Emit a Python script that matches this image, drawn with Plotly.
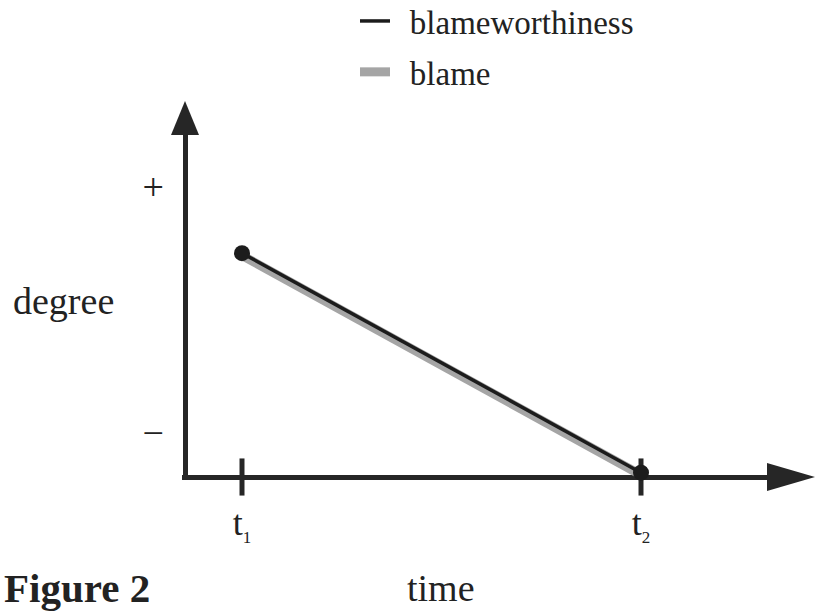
import plotly.graph_objects as go

# ---- data ----
time_points = [1, 8]                 # t1, t2
time_labels = ["t<sub><span style='font-size:17px'>1</span></sub>",
               "t<sub><span style='font-size:17px'>2</span></sub>"]
blameworthiness = [0.78, 0.015]
blame = [0.772, 0.007]
degree_ticks = [1.012, 0.153]
degree_labels = ["+", "\u2212"]
legend_names = ["\u00a0\u2009blameworthiness", "\u00a0\u2009blame"]

# ---- layout constants (pixels) ----
W, H = 817, 611
AXY_PX = 185          # x-pixel of the vertical axis line centre
AXX_PX = 477          # y-pixel of the horizontal axis line centre
LW = 5
PAD = 3
X_END_PX, Y_END_PX = 790, 125
PX_PER_T = 57.0
PX_PER_DEG = 287.0
XD0 = AXY_PX - PAD
YD0 = AXX_PX + PAD
X_MIN = -PAD / PX_PER_T
X_MAX = X_MIN + (X_END_PX - XD0) / PX_PER_T
Y_MIN = -PAD / PX_PER_DEG
Y_MAX = Y_MIN + (YD0 - Y_END_PX) / PX_PER_DEG

AX_COL = "#262626"
TXT = "#222222"
FONT = "Liberation Serif, Times New Roman, serif"

fig = go.Figure()

fig.add_trace(go.Scatter(
    x=time_points, y=blame, mode="lines", name=legend_names[1], legendgroup="b",
    line=dict(color="#a5a5a5", width=9), legendrank=2, cliponaxis=False))
fig.add_trace(go.Scatter(
    x=time_points, y=blameworthiness, mode="lines", name=legend_names[0],
    legendgroup="a", line=dict(color="#1c1c1c", width=3.5), legendrank=1,
    cliponaxis=False))
# tick marks crossing the time axis
fig.add_trace(go.Scatter(
    x=time_points, y=[0, 0], mode="markers", showlegend=False, hoverinfo="skip",
    marker=dict(symbol="line-ns", size=26.5, line=dict(color=AX_COL, width=5)),
    cliponaxis=False))
# end dots
fig.add_trace(go.Scatter(
    x=time_points, y=blameworthiness, mode="markers", showlegend=False,
    marker=dict(color="#1c1c1c", size=16), cliponaxis=False))

fig.update_layout(
    width=W, height=H, margin=dict(l=0, r=0, t=0, b=0, autoexpand=False),
    paper_bgcolor="white", plot_bgcolor="white",
    font=dict(family=FONT, color=TXT),
    xaxis=dict(domain=[XD0 / W, X_END_PX / W], range=[X_MIN, X_MAX],
               showgrid=False, showline=False,
               zeroline=True, zerolinecolor=AX_COL, zerolinewidth=LW, ticks="",
               tickvals=time_points, ticktext=time_labels,
               tickfont=dict(size=36, family=FONT, color=TXT),
               ticklabelstandoff=18),
    yaxis=dict(domain=[(H - YD0) / H, (H - Y_END_PX) / H], range=[Y_MIN, Y_MAX],
               showgrid=False, showline=False,
               zeroline=True, zerolinecolor=AX_COL, zerolinewidth=LW, ticks="",
               tickvals=degree_ticks, ticktext=degree_labels,
               tickfont=dict(size=38, family=FONT, color=TXT),
               ticklabelstandoff=17),
    legend=dict(x=355 / W, y=1 + 7 / H, xanchor="left", yanchor="top",
                traceorder="grouped", tracegroupgap=5,
                font=dict(size=33, family=FONT, color=TXT),
                itemwidth=30, bgcolor="rgba(0,0,0,0)"),
    showlegend=True,
)

# arrowheads (pixel-sized, anchored at axis ends, in paper coords so not clipped)
fig.add_shape(type="path", xref="paper", yref="paper", xsizemode="pixel", ysizemode="pixel",
              xanchor=X_END_PX / W, yanchor=1 - AXX_PX / H,
              path="M-23,14 L25,0 L-23,-14 Z", fillcolor=AX_COL, line=dict(width=0))
fig.add_shape(type="path", xref="paper", yref="paper", xsizemode="pixel", ysizemode="pixel",
              xanchor=AXY_PX / W, yanchor=1 - Y_END_PX / H,
              path="M-14,-10 L0,24 L14,-10 Z", fillcolor=AX_COL, line=dict(width=0))

fig.add_annotation(text="degree", x=64 / W, y=1 - 301 / H, xref="paper", yref="paper",
                   xanchor="center", yanchor="middle", showarrow=False,
                   font=dict(size=38, family=FONT, color=TXT))
fig.add_annotation(text="time", x=441 / W, y=1 - 588 / H, xref="paper", yref="paper",
                   xanchor="center", yanchor="middle", showarrow=False,
                   font=dict(size=38, family=FONT, color=TXT))
fig.add_annotation(text="<b>Figure 2</b>", x=2 / W, y=1 - 588 / H, xref="paper", yref="paper",
                   xanchor="left", yanchor="middle", showarrow=False,
                   font=dict(size=41, family=FONT, color=TXT))

fig.write_html("out.html", config={"displayModeBar": False},
               post_script="document.body.style.margin='0';document.body.style.overflow='hidden';")
